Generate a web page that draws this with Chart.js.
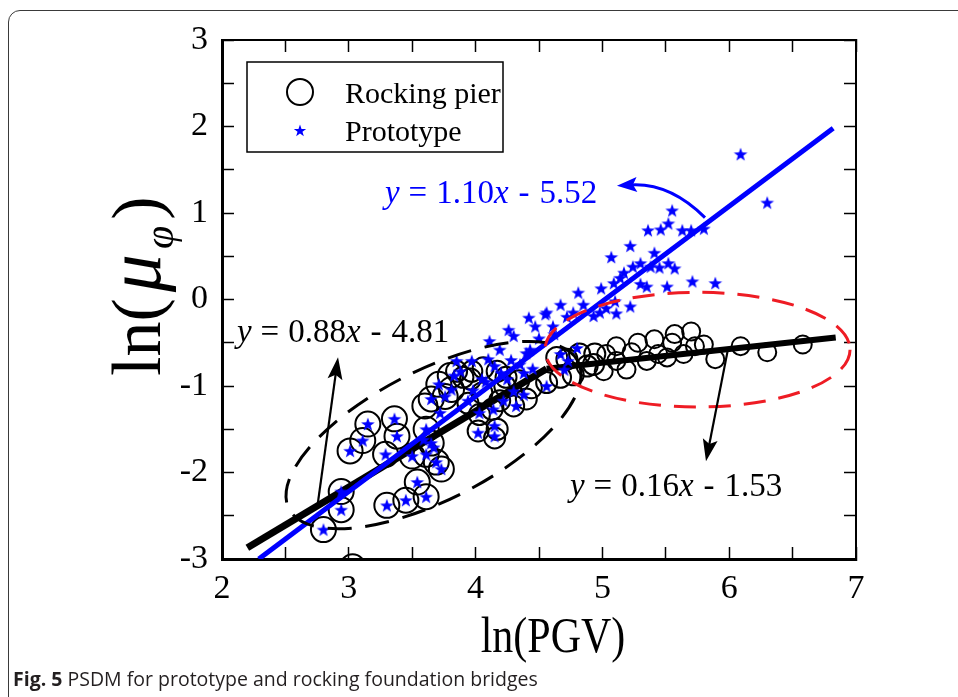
<!DOCTYPE html>
<html><head><meta charset="utf-8">
<script src="https://cdn.jsdelivr.net/npm/chart.js@4/dist/chart.umd.min.js"></script>
<style>
html,body{margin:0;padding:0;background:#fff;width:958px;height:697px;overflow:hidden;}
#frame{position:absolute;left:8px;top:10px;width:1100px;height:900px;border:1.5px solid #3a3a3a;border-radius:12px;box-sizing:border-box;}
#wrap{position:absolute;left:0;top:0;width:958px;height:697px;}
#caption{position:absolute;left:13px;top:667px;font-family:'Open Sans',sans-serif;font-size:19.5px;line-height:24px;color:#231f20;white-space:nowrap;}
#caption b{font-weight:700;}
</style></head>
<body>
<div id="frame"></div>
<div id="wrap"><canvas id="c" width="958" height="697"></canvas></div>
<div id="caption"><b>Fig. 5</b> PSDM for prototype and rocking foundation bridges</div>
<script>
// ---------- data ----------
const rockX = [2.80,2.94,2.94,3.01,3.11,3.15,3.29,3.36,3.38,3.30,3.45,3.54,3.61,3.50,3.61,3.61,3.65,3.73,3.69,3.65,3.71,3.81,3.76,3.03,
  3.60,3.85,3.97,3.96,4.06,4.17,4.05,4.23,4.34,4.44,4.40,4.30,4.19,4.13,4.02,4.17,4.15,4.56,4.67,4.77,4.88,4.72,4.64,4.94,3.80,3.90,4.24,3.94,4.03,
  4.93,5.01,5.03,5.11,5.19,5.28,5.35,5.41,5.44,5.55,5.57,5.64,5.70,5.73,5.80,5.89,6.09,6.30,6.58,4.82,5.11,5.23,5.51];
const rockY = [-2.66,-2.43,-2.22,-1.75,-1.63,-1.44,-1.79,-1.38,-1.58,-2.38,-2.32,-2.11,-2.28,-1.81,-1.79,-1.50,-1.66,-1.96,-1.88,-1.15,-0.98,-1.04,-1.12,-3.09,
  -1.23,-0.83,-0.83,-0.92,-0.79,-0.83,-1.08,-1.00,-0.94,-1.02,-1.15,-1.23,-1.17,-1.27,-1.52,-1.50,-1.60,-0.96,-0.90,-0.87,-0.77,-0.69,-0.67,-0.63,-0.88,-0.90,-0.90,-1.20,-1.33,
  -0.75,-0.83,-0.63,-0.71,-0.81,-0.50,-0.71,-0.46,-0.63,-0.50,-0.40,-0.63,-0.37,-0.54,-0.52,-0.69,-0.54,-0.61,-0.52,-0.63,-0.54,-0.61,-0.67];

const protoX = [2.80,2.94,2.94,3.01,3.11,3.15,3.29,3.36,3.38,3.30,3.45,3.54,3.61,3.50,3.61,3.61,3.65,3.73,3.69,3.65,3.71,3.81,3.76,
  3.72,3.94,4.03,4.14,4.22,4.32,4.02,4.15,4.15,3.59,3.67,
  3.85,3.88,3.97,4.10,4.15,4.11,4.19,4.26,4.30,4.42,4.47,4.43,4.55,4.61,4.35,4.25,4.30,4.38,4.56,4.67,4.73,4.80,4.70,4.67,4.85,4.93,3.83,4.05,4.38,
  4.50,4.62,4.72,4.40,4.28,4.20,4.08,3.98,4.45,
  4.56,4.81,4.77,4.98,5.03,5.10,5.11,5.22,4.99,5.09,5.14,5.17,5.24,5.30,5.30,5.35,5.38,5.45,5.51,5.52,5.57,5.41,5.07,5.22,5.36,5.46,5.52,5.55,5.63,5.70,5.80,5.71,5.89,6.09,6.30];
const protoY = [-2.66,-2.43,-2.22,-1.75,-1.63,-1.44,-1.79,-1.38,-1.58,-2.38,-2.32,-2.11,-2.28,-1.81,-1.79,-1.50,-1.66,-1.96,-1.88,-1.15,-0.98,-1.04,-1.12,
  -1.31,-1.17,-1.31,-1.27,-1.17,-1.23,-1.54,-1.46,-1.58,-1.62,-1.71,
  -0.71,-0.83,-0.71,-0.69,-0.77,-0.48,-0.58,-0.35,-0.42,-0.21,-0.31,-0.58,-0.17,-0.31,-0.75,-0.92,-1.06,-1.10,-1.00,-0.63,-0.71,-0.56,-0.81,-0.06,-0.06,-0.19,-0.88,-0.92,-0.85,
  -0.45,-0.40,-0.20,-0.62,-0.70,-0.85,-0.95,-1.05,-0.80,
  -0.15,0.08,-0.15,-0.15,-0.10,-0.02,-0.16,-0.08,0.13,0.19,0.25,0.31,0.38,0.42,0.18,0.15,0.38,0.37,0.15,0.42,0.36,0.54,0.49,0.62,0.80,0.81,0.88,1.03,0.80,0.80,0.82,0.21,0.19,1.68,1.12];

// fitted lines, end points
const fitRockLowX = [2.20, 4.56],  fitRockLowY = [-2.87, -0.80];
const fitRockHighX = [4.56, 6.84], fitRockHighY = [-0.80, -0.44];
const fitProtoX = [2.29, 6.82],    fitProtoY = [-3.00, 1.98];

const xTicks = [2, 3, 4, 5, 6, 7];
const yTicks = [-3, -2, -1, 0, 1, 2, 3];
const seriesNames = ['Rocking pier', 'Prototype'];
const eqLow = ['y', ' = ', '0.88', 'x', ' - ', '4.81'];
const eqHigh = ['y', ' = ', '0.16', 'x', ' - ', '1.53'];
const eqProto = ['y', ' = ', '1.10', 'x', ' - ', '5.52'];

// ---------- helpers ----------
const zip = (xs, ys) => xs.map((v, i) => ({x: v, y: ys[i]}));
function starPath(g, cx, cy, R, r) {
  g.beginPath();
  for (let i = 0; i < 10; i++) {
    const a = -Math.PI / 2 + i * Math.PI / 5;
    const rad = i % 2 === 0 ? R : r;
    g.lineTo(cx + rad * Math.cos(a), cy + rad * Math.sin(a));
  }
  g.closePath();
}
const starImg = (() => {
  const c = document.createElement('canvas'); c.width = 16; c.height = 16;
  const g = c.getContext('2d'); g.fillStyle = '#0000ff';
  starPath(g, 8, 8.6, 7.2, 2.9); g.fill();
  return c;
})();
const SERIF = '"Liberation Serif","Times New Roman",serif';
const BLUE = '#0000ff';

function arrowHead(ctx, tx, ty, ang, len, hw, color) {
  ctx.save();
  ctx.fillStyle = color;
  ctx.translate(tx, ty); ctx.rotate(ang);
  ctx.beginPath(); ctx.moveTo(0, 0); ctx.lineTo(-len, -hw); ctx.lineTo(-len * 0.8, 0); ctx.lineTo(-len, hw); ctx.closePath();
  ctx.fill();
  ctx.restore();
}
function richText(ctx, parts, x, y, size, color) {
  ctx.save();
  ctx.fillStyle = color; ctx.textBaseline = 'alphabetic'; ctx.textAlign = 'left';
  let cx = x;
  parts.forEach(t => {
    const it = (t === 'y' || t === 'x');
    ctx.font = (it ? 'italic ' : '') + size + 'px ' + SERIF;
    if (t === ' = ') { ctx.fillText('=', cx + 9, y); cx += ctx.measureText('=').width + 18; return; }
    if (t === ' - ') { ctx.fillText('-', cx + 10, y); cx += ctx.measureText('-').width + 20; return; }
    ctx.fillText(t, cx, y);
    cx += ctx.measureText(t).width;
  });
  ctx.restore();
}

const overlay = {
  id: 'overlay',
  afterDatasetsDraw(chart) {
    const {ctx} = chart;
    const X = chart.scales.x, Y = chart.scales.y;
    const px = v => X.getPixelForValue(v), py = v => Y.getPixelForValue(v);
    ctx.save();
    // black dashed ellipse (rotated)
    {
      const x1 = px(2.528), y1 = py(-2.42), x2 = px(4.808), y2 = py(-0.715);
      const cx = (x1 + x2) / 2, cy = (y1 + y2) / 2;
      const a = Math.hypot(x2 - x1, y2 - y1) / 2, b = a * 0.40;
      ctx.beginPath(); ctx.ellipse(cx, cy, a, b, Math.atan2(y2 - y1, x2 - x1), 0, Math.PI * 2);
      ctx.setLineDash([24, 14]); ctx.lineWidth = 3; ctx.strokeStyle = '#000'; ctx.stroke();
    }
    // red dashed ellipse
    {
      const cx = px(5.75), cy = py(-0.58);
      const rx = px(5.75 + 1.203) - cx, ry = cy - py(-0.58 + 0.663);
      ctx.beginPath(); ctx.ellipse(cx, cy, rx, ry, 0, 0, Math.PI * 2);
      ctx.setLineDash([22, 13]); ctx.lineWidth = 3; ctx.strokeStyle = '#ee1c24'; ctx.stroke();
    }
    ctx.setLineDash([]);
    // black arrow to 0.88 label
    {
      const sx = px(2.757), sy = py(-2.342), tx = px(2.915), ty = py(-0.669);
      const ang = Math.atan2(ty - sy, tx - sx);
      ctx.beginPath(); ctx.moveTo(sx, sy); ctx.lineTo(tx - 16 * Math.cos(ang), ty - 16 * Math.sin(ang));
      ctx.lineWidth = 2.2; ctx.strokeStyle = '#000'; ctx.stroke();
      arrowHead(ctx, tx, ty, ang, 22, 7.5, '#000');
    }
    // black arrow to 0.16 label
    {
      const sx = px(5.99), sy = py(-0.577), tx = px(5.817), ty = py(-1.869);
      const ang = Math.atan2(ty - sy, tx - sx);
      ctx.beginPath(); ctx.moveTo(sx, sy); ctx.lineTo(tx - 16 * Math.cos(ang), ty - 16 * Math.sin(ang));
      ctx.lineWidth = 2.2; ctx.strokeStyle = '#000'; ctx.stroke();
      arrowHead(ctx, tx, ty, ang, 22, 7.5, '#000');
    }
    // blue curved arrow
    {
      const p0 = [px(5.809), py(0.946)], p1 = [px(5.533), py(1.350)], p2 = [px(5.115), py(1.315)];
      const ang = Math.atan2(p2[1] - p1[1], p2[0] - p1[0]);
      ctx.beginPath(); ctx.moveTo(p0[0], p0[1]);
      ctx.quadraticCurveTo(p1[0], p1[1], p2[0] - 14 * Math.cos(ang), p2[1] - 14 * Math.sin(ang));
      ctx.lineWidth = 3; ctx.strokeStyle = BLUE; ctx.stroke();
      arrowHead(ctx, p2[0], p2[1], ang, 20, 7.5, BLUE);
    }
    // equations
    richText(ctx, eqLow, px(2.118), py(-0.496), 33, '#000');
    richText(ctx, eqProto, px(3.285), py(1.116), 33, BLUE);
    richText(ctx, eqHigh, px(4.744), py(-2.269), 33, '#000');
    ctx.restore();
  },
  afterDraw(chart) {
    const {ctx, chartArea: ca} = chart;
    ctx.save();
    // legend
    const lx = ca.left + 25, ly = ca.top + 22, lw = 256, lh = 90;
    ctx.fillStyle = '#fff'; ctx.fillRect(lx, ly, lw, lh);
    ctx.lineWidth = 1.5; ctx.strokeStyle = '#000'; ctx.strokeRect(lx, ly, lw, lh);
    ctx.beginPath(); ctx.arc(lx + 53, ly + 30, 13, 0, Math.PI * 2); ctx.lineWidth = 2; ctx.stroke();
    ctx.fillStyle = BLUE; starPath(ctx, lx + 53, ly + 69, 6.5, 2.6); ctx.fill();
    ctx.fillStyle = '#000'; ctx.font = '30px ' + SERIF; ctx.textBaseline = 'alphabetic';
    ctx.fillText(seriesNames[0], lx + 98, ly + 41);
    ctx.fillText(seriesNames[1], lx + 98, ly + 79);
    // x title
    ctx.save();
    ctx.translate(553, 652);
    ctx.scale(1, 1.22);
    ctx.font = '42px ' + SERIF; ctx.textAlign = 'center'; ctx.fillStyle = '#000';
    ctx.fillText('ln(PGV)', 0, 0);
    ctx.restore();
    // y title: ln(μφ)
    ctx.save();
    ctx.translate(160, 376);
    ctx.rotate(-Math.PI / 2);
    ctx.fillStyle = '#000'; ctx.textAlign = 'left';
    let cx = 0;
    ctx.font = '70px ' + SERIF; ctx.fillText('ln(', cx, 0); cx += ctx.measureText('ln(').width + 6;
    ctx.font = 'italic 76px ' + SERIF; ctx.fillText('μ', cx, 0); cx += ctx.measureText('μ').width + 5;
    ctx.font = 'italic 42px ' + SERIF; ctx.fillText('φ', cx, 13); cx += ctx.measureText('φ').width + 6;
    ctx.font = '70px ' + SERIF; ctx.fillText(')', cx, 0);
    ctx.restore();
    ctx.restore();
  }
};

const tickCb = v => (Number.isInteger(v) ? String(v) : '');
const noLbl = () => '';
const gridIn = {display: true, drawOnChartArea: false, drawTicks: true, tickLength: -12, tickColor: '#000', tickWidth: 1.5};
const noPad = s => { s.paddingTop = 0; s.paddingBottom = 0; s.paddingLeft = 0; s.paddingRight = 0; };

new Chart(document.getElementById('c'), {
  type: 'scatter',
  data: {
    datasets: [
      {label: seriesNames[1], data: zip(protoX, protoY), pointStyle: starImg, order: 0, clip: 0},
      {type: 'line', label: 'fitProto', data: zip(fitProtoX, fitProtoY), borderColor: BLUE, borderWidth: 5, pointRadius: 0, order: 1, clip: 0, borderCapStyle: 'butt'},
      {type: 'line', label: 'fitLow', data: zip(fitRockLowX, fitRockLowY), borderColor: '#000', borderWidth: 7, pointRadius: 0, order: 2, clip: 0},
      {type: 'line', label: 'fitHigh', data: zip(fitRockHighX, fitRockHighY), borderColor: '#000', borderWidth: 6, pointRadius: 0, order: 2, clip: 0},
      {label: seriesNames[0], data: zip(rockX, rockY), pointStyle: 'circle', backgroundColor: 'rgba(255,255,255,0)', borderColor: '#000', borderWidth: 2,
        pointRadius: c => { const v = c.raw ? c.raw.x : 0; return v < 3.85 ? 12.5 : (v < 4.95 ? 10.5 : 9); }, order: 3, clip: 0}
    ]
  },
  options: {
    responsive: false, animation: false, devicePixelRatio: 1,
    layout: {padding: {left: 0, top: 40, right: 102, bottom: 78}},
    plugins: {legend: {display: false}, tooltip: {enabled: false}},
    elements: {point: {hoverRadius: 0}},
    scales: {
      x: {type: 'linear', position: 'bottom', min: xTicks[0], max: xTicks[xTicks.length - 1],
        ticks: {stepSize: 0.5, callback: tickCb, autoSkip: false, maxRotation: 0, padding: 22, color: '#000', font: {family: SERIF, size: 34}},
        grid: gridIn, border: {display: true, color: '#000', width: 3},
        afterFit: s => { s.height = 60; noPad(s); }},
      x2: {type: 'linear', position: 'top', min: xTicks[0], max: xTicks[xTicks.length - 1],
        ticks: {stepSize: 0.5, callback: noLbl, autoSkip: false, display: false},
        grid: gridIn, border: {display: true, color: '#000', width: 2},
        afterFit: s => { s.height = 0; noPad(s); }},
      y: {type: 'linear', position: 'left', min: yTicks[0], max: yTicks[yTicks.length - 1],
        ticks: {stepSize: 0.5, callback: tickCb, autoSkip: false, padding: 26, color: '#000', font: {family: SERIF, size: 34}},
        grid: gridIn, border: {display: true, color: '#000', width: 3},
        afterFit: s => { s.width = 222; noPad(s); }},
      y2: {type: 'linear', position: 'right', min: yTicks[0], max: yTicks[yTicks.length - 1],
        ticks: {stepSize: 0.5, callback: noLbl, autoSkip: false, display: false},
        grid: gridIn, border: {display: true, color: '#000', width: 2},
        afterFit: s => { s.width = 0; noPad(s); }}
    }
  },
  plugins: [overlay]
});
</script>
</body></html>
